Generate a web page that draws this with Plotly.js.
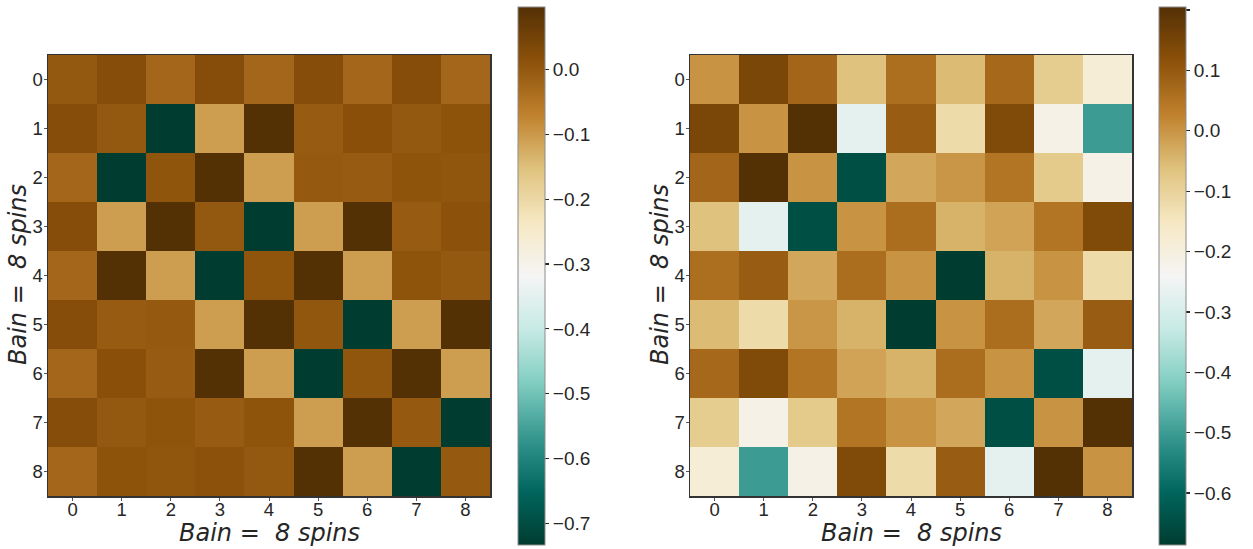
<!DOCTYPE html>
<html>
<head>
<meta charset="utf-8">
<script src="https://cdn.plot.ly/plotly-3.0.1.min.js"></script>
<style>html,body{margin:0;padding:0;background:#fff;}#chart{width:1253px;height:549px;}</style>
</head>
<body>
<div id="chart"></div>
<script>
// Tick labels / categories
var spinIndex = [0, 1, 2, 3, 4, 5, 6, 7, 8];

// Left matrix values (rows 0..8)
var leftRow0 = [0.000, 0.024, -0.024, 0.024, -0.024, 0.024, -0.024, 0.024, -0.024];
var leftRow1 = [0.024, 0.000, -0.733, -0.106, 0.096, -0.004, 0.016, 0.000, 0.010];
var leftRow2 = [-0.024, -0.733, 0.007, 0.096, -0.106, -0.002, -0.004, 0.008, 0.005];
var leftRow3 = [0.024, -0.106, 0.096, 0.000, -0.733, -0.106, 0.096, -0.004, 0.013];
var leftRow4 = [-0.024, 0.096, -0.106, -0.733, 0.006, 0.096, -0.106, 0.008, 0.000];
var leftRow5 = [0.024, -0.004, -0.002, -0.106, 0.096, 0.003, -0.733, -0.106, 0.096];
var leftRow6 = [-0.024, 0.016, -0.004, 0.096, -0.106, -0.733, 0.005, 0.096, -0.106];
var leftRow7 = [0.024, 0.000, 0.008, -0.004, 0.008, -0.106, 0.096, -0.002, -0.733];
var leftRow8 = [-0.024, 0.010, 0.005, 0.013, 0.000, 0.096, -0.106, -0.733, -0.002];

// Right matrix values (rows 0..8)
var rightRow0 = [0.002, 0.143, 0.078, -0.062, 0.060, -0.053, 0.071, -0.085, -0.187];
var rightRow1 = [0.143, 0.002, 0.205, -0.272, 0.095, -0.120, 0.135, -0.214, -0.499];
var rightRow2 = [0.078, 0.205, 0.002, -0.646, -0.025, -0.001, 0.049, -0.080, -0.214];
var rightRow3 = [-0.062, -0.272, -0.646, 0.002, 0.062, -0.040, -0.020, 0.049, 0.135];
var rightRow4 = [0.060, 0.095, -0.025, 0.062, 0.002, -0.686, -0.040, 0.002, -0.120];
var rightRow5 = [-0.053, -0.120, -0.001, -0.040, -0.686, 0.002, 0.062, -0.025, 0.095];
var rightRow6 = [0.071, 0.135, 0.049, -0.020, -0.040, 0.062, 0.002, -0.646, -0.272];
var rightRow7 = [-0.085, -0.214, -0.080, 0.049, 0.002, -0.025, -0.646, 0.002, 0.205];
var rightRow8 = [-0.187, -0.499, -0.214, 0.135, -0.120, 0.095, -0.272, 0.205, 0.002];

var leftZ = [leftRow0, leftRow1, leftRow2, leftRow3, leftRow4, leftRow5, leftRow6, leftRow7, leftRow8];
var rightZ = [rightRow0, rightRow1, rightRow2, rightRow3, rightRow4, rightRow5, rightRow6, rightRow7, rightRow8];

var axisLabel = '<i>Bain =  8 spins</i>';

// BrBG reversed (low = teal, high = brown)
var brbgR = [
  [0.0, 'rgb(0,60,48)'], [0.1, 'rgb(1,102,94)'], [0.2, 'rgb(53,151,143)'],
  [0.3, 'rgb(128,205,193)'], [0.4, 'rgb(199,234,229)'], [0.5, 'rgb(245,245,245)'],
  [0.6, 'rgb(246,232,195)'], [0.7, 'rgb(223,194,125)'], [0.8, 'rgb(191,129,45)'],
  [0.9, 'rgb(140,81,10)'], [1.0, 'rgb(84,48,5)']
];

function flatMin(m){ return Math.min.apply(null, m.map(function(r){return Math.min.apply(null, r);})); }
function flatMax(m){ return Math.max.apply(null, m.map(function(r){return Math.max.apply(null, r);})); }

var W = 1253, H = 549;
var txt = '#262626';
var tickFont = {family: 'Liberation Sans, Arial, sans-serif', size: 18.5, color: txt};
var cbFont = {family: 'Liberation Sans, Arial, sans-serif', size: 19, color: txt};
var titleFont = {family: 'DejaVu Sans, sans-serif', size: 24, color: txt};

function cbar(xLeftPx){
  return {
    x: xLeftPx / W, xanchor: 'left', xpad: 0, xref: 'paper',
    y: (H - 7) / H, yanchor: 'top', ypad: 0, yref: 'paper',
    len: 538 / H, lenmode: 'fraction', thickness: 27, thicknessmode: 'pixels',
    outlinewidth: 1, outlinecolor: '#8c8c8c',
    tick0: 0, dtick: 0.1, tickformat: '.1f',
    ticks: 'outside', ticklen: 4, tickwidth: 1.2, tickcolor: txt,
    tickfont: cbFont
  };
}

var traceL = {
  type: 'heatmap', z: leftZ, x: spinIndex, y: spinIndex,
  colorscale: brbgR, zmin: flatMin(leftZ), zmax: flatMax(leftZ),
  xaxis: 'x', yaxis: 'y', colorbar: cbar(518), hoverinfo: 'z'
};
var traceR = {
  type: 'heatmap', z: rightZ, x: spinIndex, y: spinIndex,
  colorscale: brbgR, zmin: flatMin(rightZ), zmax: flatMax(rightZ),
  xaxis: 'x2', yaxis: 'y2', colorbar: cbar(1159), hoverinfo: 'z'
};

function xax(d0, d1, anchor){
  return {
    domain: [d0 / W, d1 / W], anchor: anchor, range: [-0.5, 8.5],
    tickmode: 'array', tickvals: spinIndex, ticktext: spinIndex.map(String),
    ticks: 'outside', ticklen: 3, tickcolor: '#555555', tickfont: tickFont,
    ticklabelstandoff: -7,
    showline: true, mirror: true, linecolor: '#333333', linewidth: 1.5,
    showgrid: false, zeroline: false
  };
}
function yax(anchor){
  return {
    domain: [(H - 496) / H, (H - 55) / H], anchor: anchor, range: [8.5, -0.5],
    tickmode: 'array', tickvals: spinIndex, ticktext: spinIndex.map(String),
    ticks: 'outside', ticklen: 3, tickcolor: '#555555', tickfont: tickFont,
    ticklabelstandoff: -3,
    showline: true, mirror: true, linecolor: '#333333', linewidth: 1.5,
    showgrid: false, zeroline: false
  };
}

function xTitle(cx){
  return {xref: 'paper', yref: 'paper', x: cx / W, y: (H - 533) / H,
          xanchor: 'center', yanchor: 'middle', showarrow: false,
          text: axisLabel, font: titleFont};
}
function yTitle(cx){
  return {xref: 'paper', yref: 'paper', x: cx / W, y: (H - 275) / H,
          xanchor: 'center', yanchor: 'middle', showarrow: false, textangle: -90,
          text: axisLabel, font: titleFont};
}

var layout = {
  width: W, height: H,
  margin: {l: 0, r: 0, t: 0, b: 0, pad: 0},
  paper_bgcolor: '#ffffff', plot_bgcolor: '#ffffff',
  showlegend: false,
  xaxis: xax(48, 490, 'y'),
  yaxis: yax('x'),
  xaxis2: xax(690, 1132, 'y2'),
  yaxis2: yax('x2'),
  annotations: [xTitle(269), yTitle(18), xTitle(911), yTitle(660)]
};

Plotly.newPlot('chart', [traceL, traceR], layout, {displayModeBar: false, staticPlot: true});
</script>
</body>
</html>
